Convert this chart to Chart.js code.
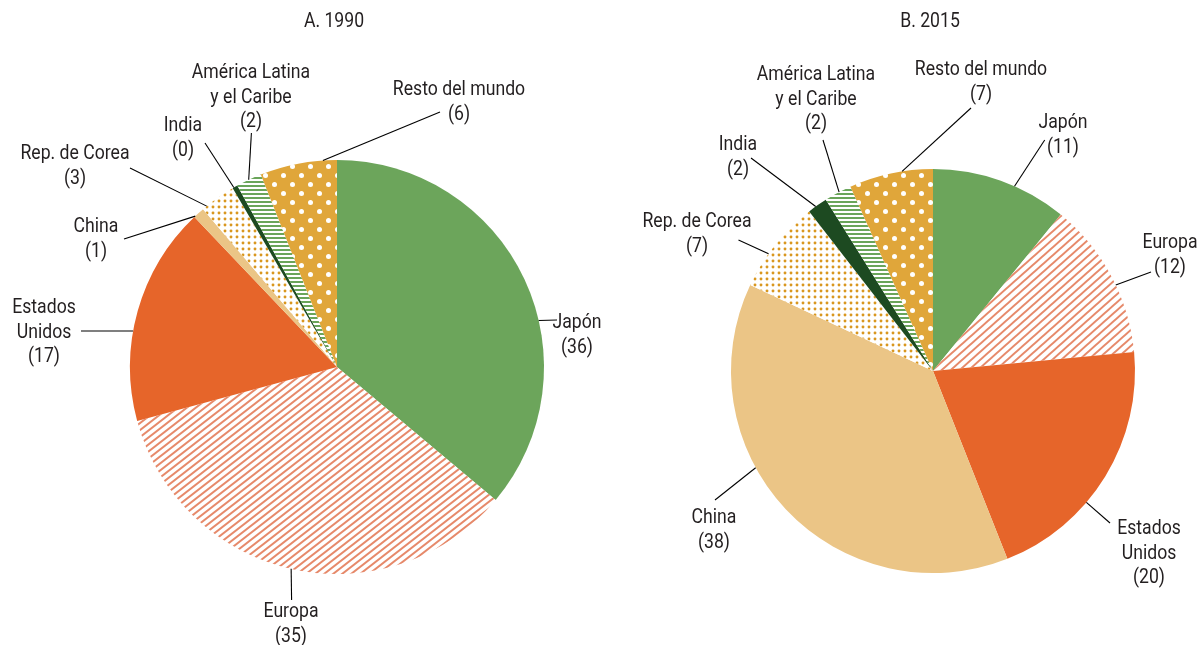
<!DOCTYPE html>
<html><head><meta charset="utf-8">
<script src="https://cdn.jsdelivr.net/npm/chart.js@4.4.1/dist/chart.umd.min.js"></script>
<style>
html,body{margin:0;padding:0;background:#fff;}
#wrap{position:relative;width:1204px;height:645px;overflow:hidden;}
.c{position:absolute;top:0;width:602px;height:645px;}
</style></head><body>
<div id="wrap">
  <div class="c" style="left:0"><canvas id="c1"></canvas></div>
  <div class="c" style="left:602px"><canvas id="c2"></canvas></div>
</div>
<script>
// ---- data ----
const categories = ['Japón','Europa','Estados Unidos','China','Rep. de Corea','India','América Latina y el Caribe','Resto del mundo'];
const labelLines = [['Japón'],['Europa'],['Estados','Unidos'],['China'],['Rep. de Corea'],['India'],['América Latina','y el Caribe'],['Resto del mundo']];
const values1990 = [36.1, 34.7, 17.1, 0.9, 2.8, 0.4, 2.0, 6.0];
const values2015 = [10.9, 12.6, 20.5, 38.0, 7.5, 1.6, 2.2, 6.7];
const shown1990 = [36, 35, 17, 1, 3, 0, 2, 6];
const shown2015 = [11, 12, 20, 38, 7, 2, 2, 7];
const titles = ['A. 1990', 'B. 2015'];

// ---- styling / label placement (relative to pie centre) ----
const FONT = 'Roboto, "Noto Sans", sans-serif';
const FONT_SIZE = 21;
const TEXT_SX = 0.84;   // horizontal condensing of label text
const LINE_H = 24.5;
const TEXT_COLOR = '#231f20';

const layout1990 = [
  {a:77,    e:[220,-47],   t:[240,-44]},
  {a:192.8, e:[-45.4,233], t:[-46,245]},
  {a:280,   e:[-256,-36],  t:[-293,-59]},
  {a:316.8, e:[-213,-128], t:[-241,-140]},
  {a:321,   e:[-207,-199], t:[-262,-213]},
  {a:330.1, e:[-132,-224], t:[-154,-241]},
  {a:334.75,e:[-85.6,-234],t:[-86,-294]},
  {a:356.1, e:[103,-255],  t:[122,-277]}
];
const layout2015 = [
  {a:23.8,  e:[111.7,-231],t:[130,-248]},
  {a:64.8,  e:[218,-99],   t:[237,-128]},
  {a:130.6, e:[177,152],   t:[216,158]},
  {a:241.4, e:[-218,129],  t:[-219,147]},
  {a:305.5, e:[-194.5,-131],t:[-236,-149]},
  {a:324.5, e:[-182,-213], t:[-195,-226]},
  {a:332.3, e:[-110,-231], t:[-117,-296]},
  {a:351.2, e:[38,-263],   t:[48,-301]}
];

function tile(w, h, draw) {
  const c = document.createElement('canvas');
  c.width = w; c.height = h;
  const x = c.getContext('2d');
  draw(x, w, h);
  return x.createPattern(c, 'repeat');
}
function stripes(w, h, color, lw) {
  return tile(w, h, (x) => {
    x.fillStyle = '#fff'; x.fillRect(0, 0, w, h);
    x.strokeStyle = color; x.lineWidth = lw;
    for (const dx of [-w, 0, w]) {
      x.beginPath(); x.moveTo(-w + dx, 2*h); x.lineTo(2*w + dx, -h); x.stroke();
    }
  });
}
const hStripes = tile(4, 4, (x) => {
  x.fillStyle = '#fff'; x.fillRect(0, 0, 4, 4);
  x.fillStyle = '#6aa55a'; x.fillRect(0, 1, 4, 2);
});
const smallDots = tile(6, 6, (x) => {
  x.fillStyle = '#fff'; x.fillRect(0, 0, 6, 6);
  x.fillStyle = '#d9971f';
  x.beginPath(); x.arc(3, 3, 1.45, 0, Math.PI*2); x.fill();
});
const bigDots = tile(18, 18, (x) => {
  x.fillStyle = '#e0a63a'; x.fillRect(0, 0, 18, 18);
  x.fillStyle = '#fff';
  x.beginPath(); x.arc(4.5, 4.5, 2.5, 0, Math.PI*2); x.fill();
  x.beginPath(); x.arc(13.5, 13.5, 2.5, 0, Math.PI*2); x.fill();
});

function fills(stripePattern) {
  return ['#6ca55b', stripePattern, '#e6652a', '#ebc586', smallDots, '#1d4a21', hStripes, bigDots];
}

function drawText(ctx, s, x, y) {
  ctx.save();
  ctx.translate(x, y);
  ctx.scale(TEXT_SX, 1);
  ctx.fillText(s, 0, 0);
  ctx.restore();
}

const labelPlugin = {
  id: 'pieLabels',
  afterDraw(chart, args, opts) {
    const ctx = chart.ctx;
    const arc = chart.getDatasetMeta(0).data[0];
    const cx = arc.x, cy = arc.y, r = arc.outerRadius;
    ctx.save();
    ctx.font = FONT_SIZE + 'px ' + FONT;
    ctx.fillStyle = TEXT_COLOR;
    ctx.textAlign = 'center';
    ctx.textBaseline = 'middle';
    drawText(ctx, opts.title, cx - 3, 22);
    opts.layout.forEach((L, i) => {
      const th = L.a * Math.PI / 180;
      const sx = cx + r * Math.sin(th), sy = cy - r * Math.cos(th);
      ctx.strokeStyle = '#000'; ctx.lineWidth = 1.1;
      ctx.beginPath(); ctx.moveTo(sx, sy); ctx.lineTo(cx + L.e[0], cy + L.e[1]); ctx.stroke();
      const lines = labelLines[i].concat(['(' + opts.shown[i] + ')']);
      lines.forEach((s, k) => drawText(ctx, s, cx + L.t[0], cy + L.t[1] + k * LINE_H));
    });
    ctx.restore();
  }
};

function makeChart(id, values, shown, layout, padding, title, stripePattern) {
  return new Chart(document.getElementById(id), {
    type: 'pie',
    data: { labels: categories, datasets: [{ data: values, backgroundColor: fills(stripePattern), borderWidth: 0 }] },
    options: {
      responsive: true, maintainAspectRatio: false, animation: false, events: [],
      layout: { padding },
      plugins: { legend: { display: false }, tooltip: { enabled: false }, pieLabels: { title, shown, layout } }
    },
    plugins: [labelPlugin]
  });
}

makeChart('c1', values1990, shown1990, layout1990, {left:130, right:58, top:160, bottom:71}, titles[0], stripes(9, 7, '#e6896a', 2));
makeChart('c2', values2015, shown2015, layout2015, {left:129, right:69, top:169, bottom:72}, titles[1], stripes(9, 8, '#e6896a', 2));
</script>
</body></html>
